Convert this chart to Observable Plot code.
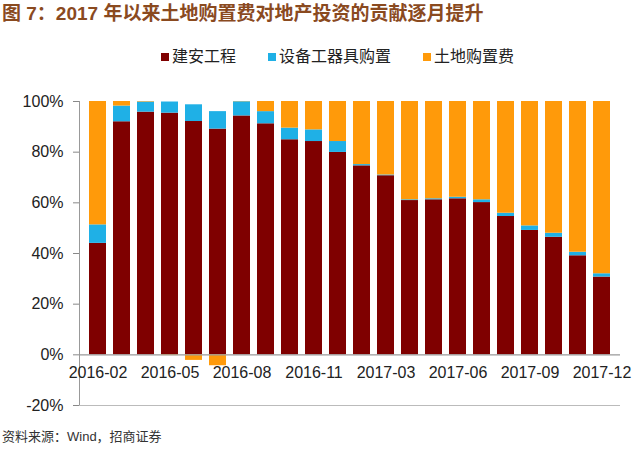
<!DOCTYPE html>
<html><head><meta charset="utf-8">
<script src="https://cdn.jsdelivr.net/npm/d3@7"></script>
<script src="https://cdn.jsdelivr.net/npm/@observablehq/plot@0.6"></script>
<style>
body{margin:0;background:#fff;font-family:"Liberation Sans",Arial,"Noto Sans CJK SC",sans-serif;width:635px;}
#title{height:40px;font-size:19px;font-weight:bold;color:#8a4a1f;line-height:28px;padding-left:2px;white-space:nowrap;font-family:"Liberation Sans","Noto Sans CJK SC",sans-serif;}
#legend{height:30px;display:flex;justify-content:center;align-items:center;gap:32px;font-size:16px;color:#222;padding-left:40px;box-sizing:border-box;}
#legend span.sw{display:inline-block;width:8px;height:8px;margin-right:3px;vertical-align:middle;position:relative;top:-1px;}
#caption{font-size:13px;color:#333;padding-left:2px;margin-top:6px;}
</style></head>
<body>
<div id="title">图 7：2017 年以来土地购置费对地产投资的贡献逐月提升</div>
<div id="legend"></div>
<div id="chart"></div>
<div id="caption">资料来源：Wind，招商证券</div>
<script>
const months = ["2016-02","2016-03","2016-04","2016-05","2016-06","2016-07","2016-08","2016-09","2016-10","2016-11","2016-12",
  "2017-02","2017-03","2017-04","2017-05","2017-06","2017-07","2017-08","2017-09","2017-10","2017-11","2017-12"];
const seriesNames = ["建安工程","设备工器具购置","土地购置费"];
const seriesColors = ["#7f0000","#1fb0e6","#ff9a0a"];
const construction = [44,92,95.8,95.4,92.1,89.1,94.3,91.2,84.9,84.2,79.9,74.6,70.7,60.9,61.2,61.6,60.1,54.6,49.1,46.4,39.1,30.7];
const equipment = [7.3,6.2,4,4.4,6.6,6.9,5.6,4.8,4.6,4.6,4.3,0.5,0.3,0.3,0.4,0.6,1.1,1.3,1.8,1.6,1.4,1.3];
const land = [48.7,1.8,0.2,-0.3,-2.2,-4.3,0.1,4,10.5,11.2,15.8,24.9,29,38.8,38.4,37.8,38.8,44.1,49.1,52,59.5,68];
const yTicks = [-20,0,20,40,60,80,100];
const xLabelMonths = ["2016-02","2016-05","2016-08","2016-11","2017-03","2017-06","2017-09","2017-12"];

const valuesBySeries = [construction, equipment, land];
const data = [];
seriesNames.forEach((s,i)=>months.forEach((m,j)=>data.push({month:m, series:s, value:valuesBySeries[i][j]})));

const leg = document.getElementById("legend");
seriesNames.forEach((s,i)=>{
  const d=document.createElement("div");
  d.innerHTML=`<span class="sw" style="background:${seriesColors[i]}"></span>${s}`;
  leg.appendChild(d);
});

const chart = Plot.plot({
  width:635, height:350,
  marginLeft:79, marginRight:15, marginTop:31, marginBottom:15,
  style:{fontFamily:"'Liberation Sans', Arial, sans-serif", background:"#fff"},
  x:{domain:months, padding:0.3, axis:null},
  y:{domain:[-20,100]},
  color:{domain:seriesNames, range:seriesColors},
  marks:[
    Plot.barY(data, Plot.stackY({order:seriesNames}, {x:"month", y:"value", fill:"series"})),
    Plot.axisY({ticks:yTicks, tickFormat:d=>d+"%", tickSize:6, tickPadding:10, fontSize:16, color:"#222", stroke:"#888", label:null}),
    Plot.frame({anchor:"left", stroke:"#999"}),
    Plot.ruleY([0], {stroke:"#999", strokeWidth:1.2}),
    Plot.ruleY([-20], {stroke:"#bbb", strokeWidth:1.2}),
    Plot.text(xLabelMonths, {x:d=>d, y:()=>0, dy:18, text:d=>d, fontSize:16, fill:"#222"})
  ]
});
document.getElementById("chart").appendChild(chart);
</script>
</body></html>
